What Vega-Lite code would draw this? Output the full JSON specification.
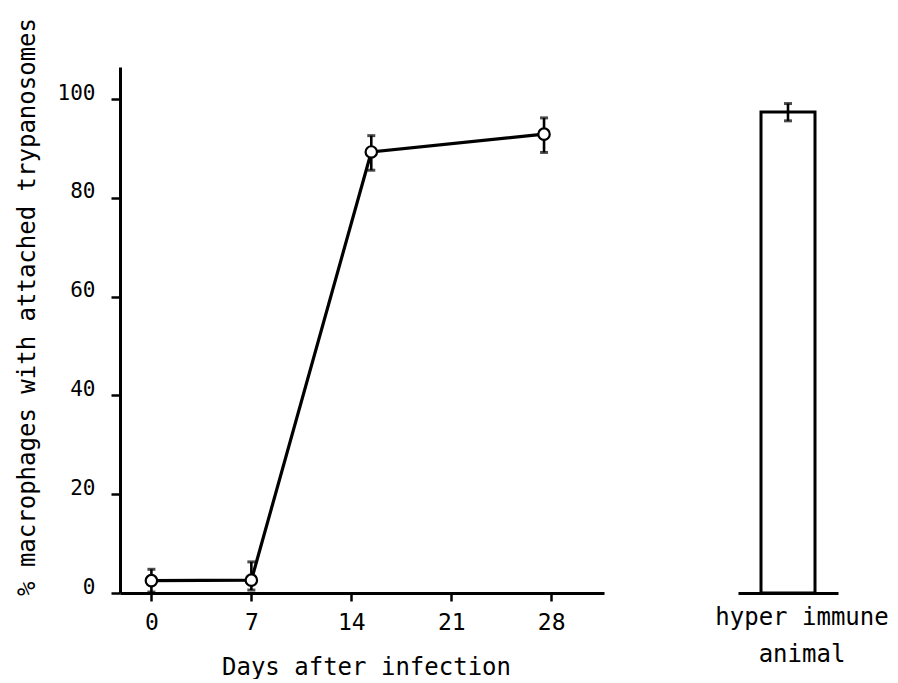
{
  "$schema": "https://vega.github.io/schema/vega-lite/v6.json",
  "background": "white",
  "padding": {"left": 14, "top": 17, "right": 0, "bottom": 0},
  "bounds": "flush",
  "spacing": 134,
  "datasets": {
    "infection": [
      {"day": 0, "pct": 2.5, "low": 0.2, "high": 4.8},
      {"day": 7, "pct": 2.6, "low": 0.6, "high": 6.3},
      {"day": 15.4, "pct": 89.3, "low": 85.6, "high": 92.6},
      {"day": 27.5, "pct": 92.9, "low": 89.2, "high": 96.2}
    ],
    "immune": [
      {"group": "hyper immune animal", "pct": 97.4, "low": 95.6, "high": 99.1}
    ]
  },
  "hconcat": [
    {
      "width": 484,
      "height": 526,
      "data": {"name": "infection"},
      "encoding": {
        "x": {
          "field": "day",
          "type": "quantitative",
          "scale": {"domain": [-2.2, 31.7], "nice": false, "zero": false},
          "axis": {
            "title": "Days after infection",
            "values": [0, 7, 14, 21, 28],
            "grid": false,
            "tickSize": 8,
            "labelFontSize": 23,
            "labelPadding": 10,
            "titleFontSize": 24,
            "titleBaseline": "alphabetic",
            "titleX": 246,
            "titleY": 81
          }
        },
        "y": {
          "field": "pct",
          "type": "quantitative",
          "scale": {"domain": [0, 106.5], "nice": false},
          "axis": {
            "title": "% macrophages with attached trypanosomes",
            "values": [0, 20, 40, 60, 80, 100],
            "grid": false,
            "tickSize": 9,
            "labelFontSize": 21,
            "labelPadding": 16,
            "labelBaseline": "alphabetic",
            "titleFontSize": 24,
            "titleBaseline": "alphabetic",
            "titleX": -86,
            "titleY": 239.5
          }
        }
      },
      "layer": [
        {"mark": {"type": "line", "color": "black", "strokeWidth": 3.2}},
        {
          "mark": {"type": "rule", "color": "black", "strokeWidth": 2.6},
          "encoding": {
            "y": {"field": "low", "type": "quantitative"},
            "y2": {"field": "high"}
          }
        },
        {
          "mark": {"type": "tick", "orient": "horizontal", "color": "black", "size": 8, "thickness": 3},
          "encoding": {"y": {"field": "low", "type": "quantitative"}}
        },
        {
          "mark": {"type": "tick", "orient": "horizontal", "color": "black", "size": 8, "thickness": 3},
          "encoding": {"y": {"field": "high", "type": "quantitative"}}
        },
        {
          "mark": {
            "type": "point",
            "shape": "circle",
            "filled": true,
            "fill": "white",
            "stroke": "black",
            "strokeWidth": 2.2,
            "size": 130,
            "opacity": 1,
            "fillOpacity": 1
          }
        }
      ]
    },
    {
      "width": 100,
      "height": 526,
      "data": {"name": "immune"},
      "encoding": {
        "x": {
          "field": "group",
          "type": "nominal",
          "scale": {"paddingInner": 0, "paddingOuter": 0},
          "axis": {
            "title": null,
            "ticks": false,
            "labelAngle": 0,
            "labelFontSize": 24,
            "labelPadding": 12,
            "labelLineHeight": 37,
            "labelOffset": 14,
            "labelLimit": 0,
            "labelExpr": "['hyper immune', 'animal']"
          }
        },
        "y": {
          "field": "pct",
          "type": "quantitative",
          "scale": {"domain": [0, 106.5], "nice": false},
          "axis": null
        }
      },
      "layer": [
        {"mark": {"type": "bar", "size": 54, "fill": "white", "stroke": "black", "strokeWidth": 3}},
        {
          "mark": {"type": "rule", "color": "black", "strokeWidth": 2.6},
          "encoding": {
            "y": {"field": "low", "type": "quantitative"},
            "y2": {"field": "high"}
          }
        },
        {
          "mark": {"type": "tick", "orient": "horizontal", "color": "black", "size": 8, "thickness": 3},
          "encoding": {"y": {"field": "low", "type": "quantitative"}}
        },
        {
          "mark": {"type": "tick", "orient": "horizontal", "color": "black", "size": 8, "thickness": 3},
          "encoding": {"y": {"field": "high", "type": "quantitative"}}
        }
      ]
    }
  ],
  "config": {
    "view": {"stroke": null},
    "font": "DejaVu Sans Mono",
    "axis": {
      "labelFont": "DejaVu Sans Mono",
      "titleFont": "DejaVu Sans Mono",
      "labelColor": "black",
      "titleColor": "black",
      "titleFontWeight": "normal",
      "domainColor": "black",
      "domainWidth": 3,
      "tickColor": "black",
      "tickWidth": 2.5
    }
  }
}
